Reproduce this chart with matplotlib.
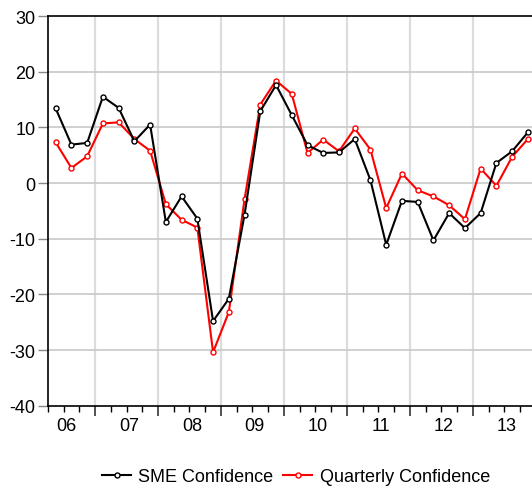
import matplotlib
matplotlib.use("Agg")
import matplotlib.pyplot as plt
import numpy as np

# quarterly data, 2006Q2 .. 2013Q4
sme_confidence = [13.4, 6.9, 7.2, 15.5, 13.5, 7.5, 10.5, -7.0, -2.4, -6.4,
                  -24.8, -20.8, -5.7, 12.9, 17.6, 12.2, 6.8, 5.4, 5.5, 7.9,
                  0.5, -11.1, -3.2, -3.4, -10.3, -5.4, -8.1, -5.4, 3.6, 5.7, 9.1]
quarterly_confidence = [7.3, 2.7, 4.8, 10.7, 10.9, 7.9, 5.8, -3.8, -6.6, -8.0,
                        -30.4, -23.2, -2.9, 14.1, 18.4, 16.0, 5.4, 7.8, 5.7, 9.8,
                        6.0, -4.5, 1.7, -1.3, -2.4, -4.0, -6.5, 2.6, -0.5, 4.7, 7.9]
year_labels = ["06", "07", "08", "09", "10", "11", "12", "13"]

plt.rcParams['font.family'] = ['Liberation Sans', 'DejaVu Sans']
plt.rcParams['axes.unicode_minus'] = False

fig = plt.figure(figsize=(5.32, 4.89), dpi=100)
W, H = 532, 489
q = 15.74
left, top, bottom = 47.8, 17, 406.7
ax = fig.add_axes([left / W, 1 - bottom / H, 31 * q / W, (bottom - top) / H])

x = np.arange(len(sme_confidence)) + 0.5
ax.plot(x, sme_confidence, color='black', lw=1.5, marker='o', ms=3.6,
        mfc='white', mec='black', mew=1.0, label='SME Confidence', zorder=3)
ax.plot(x, quarterly_confidence, color='red', lw=1.5, marker='o', ms=3.6,
        mfc='white', mec='red', mew=1.0, label='Quarterly Confidence', zorder=2)

ax.set_xlim(0, 31)
ax.set_ylim(-40, 30)
ax.set_yticks(np.arange(-40, 31, 10))

# year boundaries as major ticks, quarters as minor ticks
year_edges = np.arange(3, 31, 4)
ax.set_xticks(year_edges)
ax.set_xticklabels([])
ax.set_xticks(np.arange(0, 31, 1), minor=True)
for i, lab in enumerate(year_labels):
    ax.text(1 + 4 * i + 0.15, -42.0, lab, ha='center', va='top', fontsize=13)

ax.tick_params(axis='x', which='major', direction='out', length=7, width=1.2, color='#333333')
ax.tick_params(axis='x', which='minor', direction='out', length=4, width=1.0)
ax.tick_params(axis='y', direction='out', length=7, width=1.0, color='#888888',
               labelsize=13, pad=2)

for xe in year_edges:
    ax.axvline(xe, color='#dcdcdc', lw=1.6, zorder=0)
for yv in np.arange(-30, 30, 10):
    ax.axhline(yv, color='#c8c8c8', lw=1.2, zorder=0)

for s in ['left', 'top', 'bottom']:
    ax.spines[s].set_linewidth(1.2)
ax.spines['right'].set_visible(False)

fig.legend(loc='center', bbox_to_anchor=(296 / W, 1 - 478 / H), ncol=2, frameon=False,
           fontsize=13, handlelength=1.6, handletextpad=0.4, columnspacing=0.55)

fig.savefig('out.png', dpi=100)
